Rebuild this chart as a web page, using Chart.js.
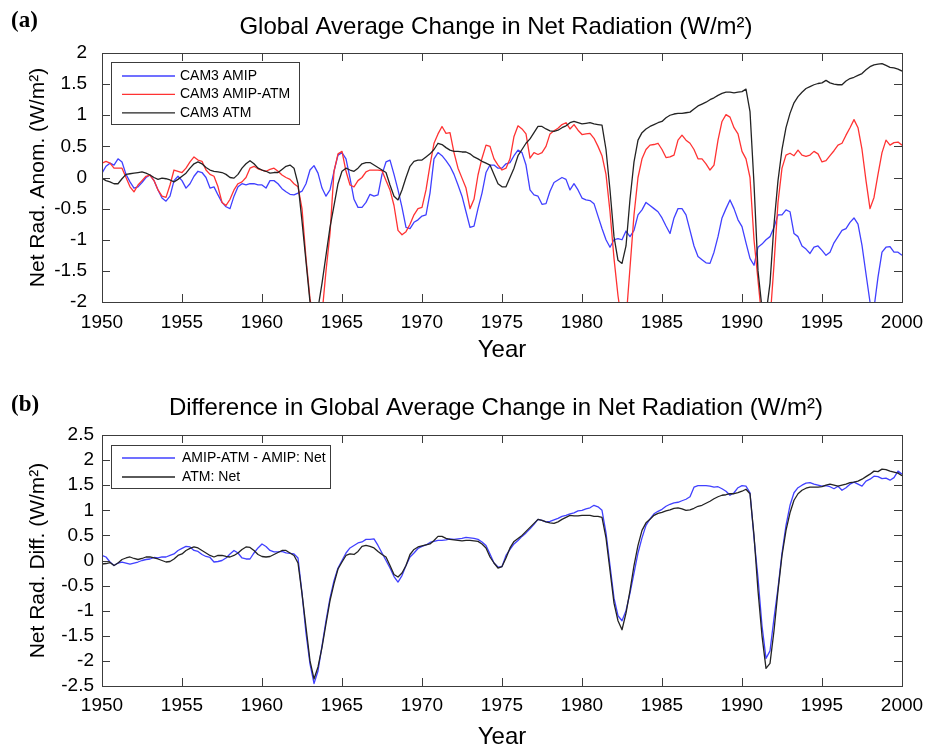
<!DOCTYPE html>
<html>
<head>
<meta charset="utf-8">
<title>Net Radiation</title>
<script src="https://cdn.jsdelivr.net/npm/chart.js@4.4.1/dist/chart.umd.min.js"></script>
<style>
  html, body { margin: 0; padding: 0; background: #fff; }
  body { width: 933px; height: 747px; overflow: hidden; position: relative; }
  .panel { position: absolute; left: 0; width: 933px; height: 380px; }
  #panel-a { top: 0; }
  #panel-b { top: 380px; }
</style>
</head>
<body>
<div class="panel" id="panel-a"><canvas id="chart-a" width="933" height="380"></canvas></div>
<div class="panel" id="panel-b"><canvas id="chart-b" width="933" height="380"></canvas></div>
<script>
// ── Data: quarterly samples, 1950.00 … 2000.00 ───────────────────────
const years = [];
for (let k = 0; k <= 200; k++) years.push(1950 + k / 4);

const xTicks  = [1950, 1955, 1960, 1965, 1970, 1975, 1980, 1985, 1990, 1995, 2000];
const yTicksA = [-2, -1.5, -1, -0.5, 0, 0.5, 1, 1.5, 2];
const yTicksB = [-2.5, -2, -1.5, -1, -0.5, 0, 0.5, 1, 1.5, 2, 2.5];

// panel (a) — CAM3 AMIP
const amip = [
   0.07,  0.18,  0.23,  0.20,   0.30,  0.25,  0.05, -0.07,  -0.17, -0.15, -0.08,  0.00,
   0.04, -0.05, -0.20, -0.33,  -0.38, -0.30, -0.05,  0.02,  -0.05, -0.17, -0.10,  0.02,
   0.10,  0.08,  0.00, -0.17,  -0.15, -0.28, -0.40, -0.47,  -0.50, -0.30, -0.15, -0.10,
  -0.12, -0.10, -0.10, -0.12,  -0.12, -0.17, -0.05, -0.05,  -0.10, -0.18, -0.23, -0.27,
  -0.28, -0.25, -0.22, -0.10,   0.12,  0.19,  0.07, -0.17,  -0.30, -0.20,  0.10,  0.36,
   0.40,  0.30, -0.01, -0.35,  -0.48, -0.48, -0.40, -0.27,  -0.30, -0.28,  0.05,  0.25,
   0.28,  0.05, -0.20, -0.48,  -0.80, -0.82, -0.72, -0.68,  -0.62, -0.60, -0.25,  0.30,
   0.40,  0.35,  0.27,  0.18,   0.05, -0.12, -0.30, -0.55,  -0.80, -0.78, -0.50, -0.25,
   0.08,  0.20,  0.20,  0.15,   0.15,  0.22,  0.24,  0.35,   0.44,  0.40,  0.20, -0.20,
  -0.28, -0.30, -0.43, -0.42,  -0.22, -0.08, -0.04,  0.00,  -0.03, -0.20, -0.10, -0.20,
  -0.33, -0.36, -0.37, -0.42,  -0.62, -0.82, -1.00, -1.12,  -1.00, -0.98, -1.00, -0.86,
  -0.95, -0.85, -0.60, -0.52,  -0.40, -0.45, -0.50, -0.55,  -0.65, -0.78, -0.90, -0.65,
  -0.50, -0.50, -0.60, -0.85,  -1.10, -1.27, -1.32, -1.37,  -1.38, -1.20, -0.95, -0.65,
  -0.50, -0.36, -0.50, -0.68,  -0.79, -1.05, -1.30, -1.41,  -1.12, -1.07, -1.00, -0.95,
  -0.80, -0.60, -0.60, -0.52,  -0.55, -0.90, -0.95, -1.10,  -1.15, -1.22, -1.12, -1.10,
  -1.17, -1.25, -1.20, -1.05,  -0.95, -0.85, -0.82, -0.72,  -0.65, -0.75, -1.09, -1.55,
  -2.00, -2.10, -1.60, -1.20,  -1.12, -1.11, -1.20, -1.20,  -1.25
];

// panel (a) — CAM3 AMIP-ATM
const amipAtm = [
   0.23,  0.26,  0.23,  0.15,   0.15,  0.15,  0.00, -0.15,  -0.23, -0.12, -0.05,  0.02,
   0.04, -0.05, -0.20, -0.30,  -0.32, -0.12,  0.12,  0.10,   0.08,  0.15,  0.25,  0.33,
   0.28,  0.26,  0.12,  0.05,   0.02, -0.15, -0.40, -0.45,  -0.35, -0.20, -0.10, -0.07,
   0.00,  0.15,  0.18,  0.14,   0.12,  0.10,  0.13,  0.15,   0.10,  0.04,  0.00, -0.03,
  -0.10, -0.15, -0.50, -1.30,  -1.95, -2.30, -2.40, -2.20,  -1.50, -0.90,  0.10,  0.38,
   0.42,  0.10, -0.12, -0.15,  -0.05,  0.00,  0.09,  0.12,   0.12,  0.12,  0.11, -0.05,
  -0.20, -0.45, -0.85, -0.92,  -0.87, -0.75, -0.60, -0.50,  -0.48, -0.20,  0.20,  0.55,
   0.70,  0.82,  0.71,  0.72,   0.40,  0.15, -0.01, -0.17,  -0.50, -0.35,  0.04,  0.31,
   0.52,  0.50,  0.30,  0.20,   0.12,  0.15,  0.30,  0.66,   0.83,  0.78,  0.70,  0.31,
   0.40,  0.37,  0.40,  0.50,   0.70,  0.75,  0.79,  0.85,   0.88,  0.78,  0.85,  0.76,
   0.69,  0.70,  0.71,  0.63,   0.50,  0.35,  0.05, -0.55,  -1.30, -1.90, -2.35, -2.30,
  -1.45, -0.60,  0.00,  0.30,   0.45,  0.52,  0.53,  0.55,   0.45,  0.32,  0.33,  0.36,
   0.60,  0.68,  0.60,  0.55,   0.45,  0.30,  0.30,  0.22,   0.12,  0.20,  0.60,  0.90,
   1.01,  0.97,  0.80,  0.70,   0.42,  0.30,  0.00, -1.00,  -1.65, -2.30, -2.50, -2.30,
  -1.40, -0.40,  0.15,  0.36,   0.39,  0.35,  0.44,  0.36,   0.34,  0.36,  0.42,  0.38,
   0.25,  0.27,  0.35,  0.43,   0.52,  0.55,  0.68,  0.80,   0.93,  0.80,  0.45, -0.05,
  -0.50, -0.32,  0.05,  0.40,   0.60,  0.52,  0.56,  0.57,   0.52
];

// panel (a) — CAM3 ATM
const atm = [
  -0.01, -0.05, -0.07, -0.10,  -0.10, -0.02,  0.05,  0.06,   0.07,  0.08,  0.09,  0.07,
   0.04,  0.00, -0.03, -0.01,  -0.02, -0.04, -0.07, -0.03,   0.02,  0.07,  0.15,  0.22,
   0.25,  0.22,  0.16,  0.12,   0.10,  0.09,  0.08,  0.05,   0.00, -0.01,  0.05,  0.15,
   0.22,  0.27,  0.22,  0.15,   0.12,  0.10,  0.07,  0.08,   0.08,  0.13,  0.18,  0.20,
   0.15, -0.10, -0.70, -1.35,  -2.00, -2.35, -2.10, -1.70,  -1.25, -0.80, -0.45, -0.10,
   0.10,  0.15,  0.12,  0.10,   0.15,  0.22,  0.24,  0.24,   0.20,  0.16,  0.12,  0.08,
  -0.12, -0.30, -0.36, -0.20,   0.00,  0.18,  0.26,  0.28,   0.28,  0.33,  0.38,  0.45,
   0.55,  0.53,  0.48,  0.44,   0.42,  0.42,  0.41,  0.41,   0.38,  0.33,  0.30,  0.26,
   0.23,  0.20,  0.05, -0.10,  -0.15, -0.15,  0.00,  0.15,   0.35,  0.45,  0.55,  0.62,
   0.72,  0.82,  0.82,  0.78,   0.75,  0.74,  0.76,  0.80,   0.83,  0.88,  0.90,  0.88,
   0.86,  0.87,  0.88,  0.86,   0.85,  0.84,  0.45, -0.20,  -0.95, -1.33, -1.38, -1.10,
  -0.35,  0.25,  0.60,  0.72,   0.78,  0.82,  0.85,  0.88,   0.90,  0.96,  1.00,  1.02,
   1.03,  1.03,  1.04,  1.05,   1.10,  1.15,  1.18,  1.21,   1.25,  1.28,  1.32,  1.35,
   1.37,  1.37,  1.36,  1.37,   1.38,  1.42,  1.06, -0.10,  -1.50, -2.10, -2.20, -1.70,
  -0.75, -0.05,  0.45,  0.80,   1.03,  1.20,  1.30,  1.37,   1.43,  1.46,  1.49,  1.51,
   1.52,  1.56,  1.52,  1.50,   1.49,  1.49,  1.55,  1.59,   1.61,  1.64,  1.67,  1.73,
   1.78,  1.81,  1.82,  1.83,   1.80,  1.77,  1.76,  1.74,   1.71
];

// panel (b) — AMIP-ATM minus AMIP
const diffNet = [
   0.10,  0.07, -0.03, -0.10,  -0.05, -0.03, -0.05, -0.07,  -0.05, -0.03,  0.00,  0.02,
   0.03,  0.06,  0.05,  0.07,   0.07,  0.10,  0.13,  0.20,   0.24,  0.28,  0.27,  0.20,
   0.18,  0.12,  0.08,  0.06,  -0.03, -0.02,  0.00,  0.05,   0.13,  0.20,  0.15,  0.05,
   0.03,  0.03,  0.15,  0.25,   0.33,  0.28,  0.20,  0.17,   0.17,  0.18,  0.15,  0.14,
   0.13,  0.05, -0.65, -1.45,  -2.06, -2.45, -2.20, -1.70,  -1.20, -0.75, -0.40, -0.15,
   0.00,  0.15,  0.25,  0.30,   0.35,  0.37,  0.42,  0.42,   0.43,  0.30,  0.15,  0.00,
  -0.15, -0.32, -0.43, -0.30,  -0.10,  0.07,  0.15,  0.24,   0.28,  0.31,  0.36,  0.38,
   0.40,  0.40,  0.41,  0.43,   0.42,  0.43,  0.44,  0.46,   0.45,  0.44,  0.42,  0.37,
   0.30,  0.13, -0.05, -0.13,  -0.12,  0.10,  0.22,  0.33,   0.40,  0.48,  0.55,  0.63,
   0.72,  0.82,  0.80,  0.77,   0.78,  0.81,  0.84,  0.88,   0.90,  0.93,  0.95,  0.99,
   1.00,  1.03,  1.05,  1.10,   1.07,  1.00,  0.55, -0.10,  -0.75, -1.10, -1.20, -1.00,
  -0.65, -0.25,  0.15,  0.45,   0.70,  0.83,  0.93,  0.98,   1.02,  1.08,  1.12,  1.15,
   1.16,  1.19,  1.22,  1.27,   1.46,  1.49,  1.49,  1.49,   1.48,  1.46,  1.47,  1.43,
   1.38,  1.30,  1.35,  1.45,   1.49,  1.48,  1.35,  0.45,  -0.35, -1.30, -1.95, -1.80,
  -1.15, -0.55,  0.15,  0.70,   1.10,  1.35,  1.45,  1.50,   1.54,  1.55,  1.52,  1.50,
   1.48,  1.49,  1.47,  1.43,   1.48,  1.40,  1.45,  1.52,   1.56,  1.52,  1.48,  1.58,
   1.62,  1.68,  1.67,  1.63,   1.64,  1.60,  1.65,  1.78,   1.72
];

// panel (b) — ATM net
const atmNet = [
  -0.07, -0.06, -0.04, -0.10,  -0.05,  0.02,  0.05,  0.07,   0.04,  0.02,  0.04,  0.07,
   0.07,  0.05,  0.03,  0.00,  -0.03, -0.02,  0.03,  0.10,   0.13,  0.20,  0.24,  0.27,
   0.25,  0.20,  0.15,  0.10,   0.07,  0.10,  0.10,  0.08,   0.07,  0.10,  0.15,  0.22,
   0.27,  0.26,  0.20,  0.12,   0.08,  0.07,  0.08,  0.12,   0.16,  0.20,  0.20,  0.15,
   0.10, -0.05, -0.66, -1.33,  -2.00, -2.36, -2.12, -1.73,  -1.26, -0.80, -0.46, -0.17,
  -0.03,  0.10,  0.13,  0.12,   0.18,  0.28,  0.30,  0.28,   0.25,  0.18,  0.12,  0.07,
  -0.10, -0.28, -0.33, -0.25,  -0.10,  0.12,  0.22,  0.27,   0.29,  0.31,  0.33,  0.40,
   0.48,  0.48,  0.44,  0.42,   0.41,  0.40,  0.39,  0.40,   0.40,  0.39,  0.38,  0.33,
   0.25,  0.07, -0.05, -0.15,  -0.12,  0.05,  0.25,  0.38,   0.44,  0.50,  0.58,  0.66,
   0.74,  0.82,  0.80,  0.77,   0.75,  0.74,  0.77,  0.82,   0.86,  0.90,  0.89,  0.89,
   0.90,  0.90,  0.90,  0.88,   0.88,  0.86,  0.45, -0.20,  -0.85, -1.20, -1.38, -1.05,
  -0.60, -0.10,  0.30,  0.60,   0.75,  0.82,  0.90,  0.94,   0.96,  0.99,  1.01,  1.04,
   1.05,  1.03,  1.00,  1.01,   1.04,  1.08,  1.10,  1.14,   1.18,  1.23,  1.27,  1.30,
   1.31,  1.33,  1.33,  1.35,   1.38,  1.42,  1.33,  0.50,  -0.60, -1.50, -2.15, -2.05,
  -1.40, -0.60,  0.10,  0.60,   0.95,  1.20,  1.33,  1.40,   1.44,  1.46,  1.46,  1.46,
   1.47,  1.50,  1.52,  1.50,   1.48,  1.50,  1.52,  1.55,   1.56,  1.58,  1.62,  1.67,
   1.72,  1.78,  1.77,  1.82,   1.81,  1.78,  1.76,  1.74,   1.69
];

// ── Styling helpers ──────────────────────────────────────────────────
const SANS  = '"Liberation Sans", Arial, Helvetica, sans-serif';
const SERIF = '"Liberation Serif", "Times New Roman", serif';
const BLUE  = 'rgb(64,64,255)';
const RED   = 'rgb(255,50,50)';
const BLACK = 'rgb(35,35,35)';
const AXIS  = '#3c3c3c';

Chart.defaults.font.family = SANS;
Chart.defaults.color = '#000';

const pts = vals => years.map((x, i) => ({ x, y: vals[i] }));
const fmt = v => String(Math.round(v * 10) / 10);

// box round the plot with MATLAB-style inward ticks on all four sides
const frame = {
  id: 'frame',
  afterDatasetsDraw(chart) {
    const { ctx, chartArea: a, scales: { x, y } } = chart;
    const L = 8;
    ctx.save();
    ctx.strokeStyle = AXIS;
    ctx.lineWidth = 1;
    ctx.beginPath();
    x.ticks.forEach(t => {
      const px = Math.round(x.getPixelForValue(t.value)) + 0.5;
      ctx.moveTo(px, a.top);    ctx.lineTo(px, a.top + L);
      ctx.moveTo(px, a.bottom); ctx.lineTo(px, a.bottom - L);
    });
    y.ticks.forEach(t => {
      const py = Math.round(y.getPixelForValue(t.value)) + 0.5;
      ctx.moveTo(a.left, py);  ctx.lineTo(a.left + L, py);
      ctx.moveTo(a.right, py); ctx.lineTo(a.right - L, py);
    });
    ctx.stroke();
    ctx.strokeRect(Math.round(a.left) + 0.5, Math.round(a.top) + 0.5,
                   Math.round(a.right - a.left), Math.round(a.bottom - a.top));
    ctx.restore();
  }
};

// legend inside the axes, upper left, one row per dataset
const boxLegend = {
  id: 'boxLegend',
  afterDraw(chart, args, o) {
    const ctx = chart.ctx;
    ctx.save();
    ctx.fillStyle = '#fff';
    ctx.fillRect(o.x, o.y, o.w, o.h);
    ctx.strokeStyle = AXIS;
    ctx.lineWidth = 1;
    ctx.strokeRect(o.x + 0.5, o.y + 0.5, o.w, o.h);
    ctx.font = o.size + 'px ' + SANS;
    ctx.textBaseline = 'middle';
    ctx.textAlign = 'left';
    chart.data.datasets.forEach((ds, k) => {
      const yy = o.y + o.first + k * o.step;
      ctx.strokeStyle = ds.borderColor;
      ctx.lineWidth = ds.borderWidth;
      ctx.beginPath();
      ctx.moveTo(o.x + o.lineFrom, yy);
      ctx.lineTo(o.x + o.lineTo, yy);
      ctx.stroke();
      ctx.fillStyle = '#000';
      ctx.fillText(ds.label, o.x + o.textX, yy);
    });
    ctx.restore();
  }
};

// panel tag "(a)"/"(b)" and the title above the axes
const panelText = {
  id: 'panelText',
  afterDraw(chart, args, o) {
    const ctx = chart.ctx;
    ctx.save();
    ctx.fillStyle = '#000';
    ctx.font = 'bold 23px ' + SERIF;
    ctx.textAlign = 'left';
    ctx.textBaseline = 'alphabetic';
    ctx.fillText(o.tag, o.tagX, o.tagY);
    ctx.font = '24px ' + SANS;
    ctx.textAlign = 'center';
    ctx.textBaseline = 'middle';
    ctx.fillText(o.title, o.titleX, o.titleY);
    ctx.restore();
  }
};

function makePanel(canvasId, cfg) {
  return new Chart(document.getElementById(canvasId), {
    type: 'line',
    data: { datasets: cfg.datasets },
    plugins: [frame, boxLegend, panelText],
    options: {
      responsive: false,
      animation: false,
      devicePixelRatio: 1,
      layout: { padding: { left: 0, top: cfg.top, right: 31, bottom: 0 } },
      elements: { point: { radius: 0 }, line: { tension: 0, borderJoinStyle: 'round' } },
      plugins: {
        legend: { display: false },
        tooltip: { enabled: false },
        boxLegend: cfg.legend,
        panelText: cfg.text
      },
      scales: {
        x: {
          type: 'linear', min: 1950, max: 2000,
          afterBuildTicks: s => { s.ticks = xTicks.map(v => ({ value: v })); },
          afterFit: s => { s.height = cfg.xHeight; },
          grid: { display: false, drawTicks: false },
          border: { display: false },
          ticks: { font: { size: 19 }, padding: cfg.xPad, maxRotation: 0, autoSkip: false,
                   callback: v => String(v) },
          title: { display: true, text: 'Year', font: { size: 24 },
                   padding: { top: 0, bottom: cfg.yearPad } }
        },
        y: {
          min: cfg.yTicks[0], max: cfg.yTicks[cfg.yTicks.length - 1],
          afterBuildTicks: s => { s.ticks = cfg.yTicks.map(v => ({ value: v })); },
          afterFit: s => { s.width = 102; },
          grid: { display: false, drawTicks: false },
          border: { display: false },
          ticks: { font: { size: 19 }, padding: cfg.yPad, autoSkip: false, callback: fmt },
          title: { display: true, text: cfg.yTitle, font: { size: 21 },
                   padding: { top: 26, bottom: 0 } }
        }
      }
    }
  });
}

const line = (label, vals, color, order) => ({
  label, data: pts(vals), borderColor: color, backgroundColor: color,
  borderWidth: 1.3, fill: false, order
});

makePanel('chart-a', {
  top: 53, xHeight: 78, xPad: 9, yPad: 15, yearPad: 15,
  yTicks: yTicksA,
  yTitle: 'Net Rad. Anom. (W/m²)',
  datasets: [
    line('CAM3 AMIP', amip, BLUE, 2),
    line('CAM3 AMIP-ATM', amipAtm, RED, 1),
    line('CAM3 ATM', atm, BLACK, 0)
  ],
  legend: { x: 111, y: 62, w: 188, h: 62, first: 14, step: 18.4,
            lineFrom: 11, lineTo: 64, textX: 69, size: 14 },
  text: { tag: '(a)', tagX: 11, tagY: 27, title: 'Global Average Change in Net Radiation (W/m²)',
          titleX: 496, titleY: 27 }
});

makePanel('chart-b', {
  top: 55, xHeight: 74, xPad: 8, yPad: 8, yearPad: 8,
  yTicks: yTicksB,
  yTitle: 'Net Rad. Diff. (W/m²)',
  datasets: [
    line('AMIP-ATM - AMIP: Net', diffNet, BLUE, 1),
    line('ATM: Net', atmNet, BLACK, 0)
  ],
  legend: { x: 111, y: 65, w: 219, h: 43, first: 13, step: 19,
            lineFrom: 11, lineTo: 64, textX: 71, size: 14 },
  text: { tag: '(b)', tagX: 11, tagY: 31, title: 'Difference in Global Average Change in Net Radiation (W/m²)',
          titleX: 496, titleY: 28 }
});
</script>
</body>
</html>
